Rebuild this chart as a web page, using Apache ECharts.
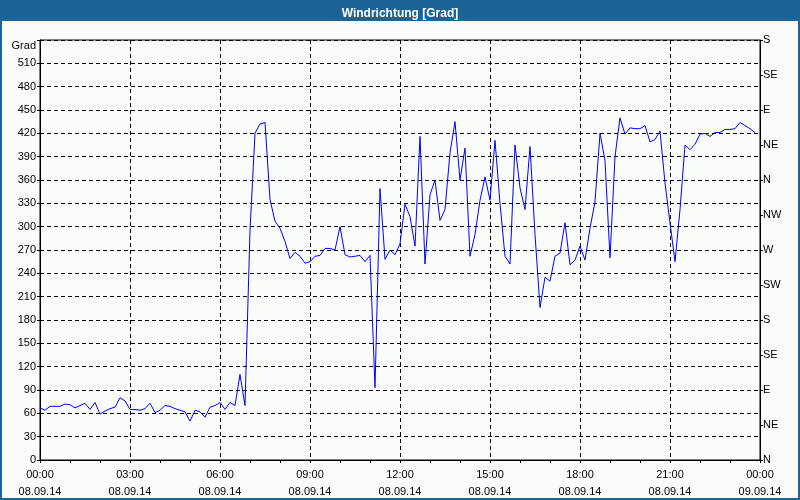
<!DOCTYPE html>
<html>
<head>
<meta charset="utf-8">
<script src="https://cdn.jsdelivr.net/npm/echarts@6/dist/echarts.min.js"></script>
<style>
html,body{margin:0;padding:0;background:#fafcfa;}
#c{width:800px;height:500px;}
</style>
</head>
<body>
<div id="c"></div>
<script>
// Wind direction, 10-minute samples from 08.09.14 00:00
const directionValues = [
  67, 64, 69, 69, 69, 72, 71, 67, 70, 73,
  65, 74, 59, 63, 66, 68, 80, 76, 65, 65,
  64, 66, 73, 61, 64, 70, 69, 66, 64, 62,
  50, 64, 62, 55, 68, 70, 74, 65, 74, 70,
  110, 70, 295, 420, 432, 434, 335, 307, 298, 281,
  259, 267, 262, 253, 255, 262, 263, 272, 272, 270,
  300, 264, 261, 262, 263, 255, 263, 93, 349, 258,
  270, 264, 278, 329, 313, 275, 416, 252, 341, 360,
  308, 322, 395, 435, 360, 401, 262, 290, 334, 364,
  334, 411, 330, 262, 252, 405, 350, 322, 403, 290,
  196, 235, 230, 262, 266, 305, 251, 257, 275, 257,
  298, 332, 420, 385, 260, 390, 440, 419, 427, 426,
  426, 430, 409, 412, 423, 356, 305, 255, 322, 405,
  399, 406, 419, 420, 416, 421, 421, 425, 425, 426,
  434, 430, 426, 421
];
const sampleMinutes = 10;
const timeLabels = ['00:00','03:00','06:00','09:00','12:00','15:00','18:00','21:00','00:00'];
const dateLabels = ['08.09.14','08.09.14','08.09.14','08.09.14','08.09.14','08.09.14','08.09.14','08.09.14','09.09.14'];
const gradTicks = [0,30,60,90,120,150,180,210,240,270,300,330,360,390,420,450,480,510];
const compassLabels = ['N','NE','E','SE','S','SW','W','NW','N','NE','E','SE','S'];

const seriesData = directionValues.map((v, i) => [i * sampleMinutes, v]);

const FONT = "'Liberation Sans Narrow','Liberation Sans',sans-serif";
const BLUE = '#1d6496';

const chart = echarts.init(document.getElementById('c'), null, {renderer: 'canvas'});
chart.setOption({
  backgroundColor: '#fafcfa',
  animation: false,
  title: {
    text: 'Windrichtung [Grad]',
    left: 'center',
    top: 3,
    textStyle: {color: '#ffffff', fontFamily: FONT, fontSize: 12, fontWeight: 'bold'}
  },
  graphic: [
    {type: 'rect', z: -10, shape: {x: 0, y: 0, width: 800, height: 21}, style: {fill: BLUE}},
    {type: 'rect', z: -10, shape: {x: 1, y: 1, width: 798, height: 498}, style: {fill: 'none', stroke: BLUE, lineWidth: 2}}
  ],
  grid: {
    left: 40, right: 40, top: 40, bottom: 39,
    show: true, borderColor: '#000', borderWidth: 1, backgroundColor: 'transparent'
  },
  xAxis: {
    type: 'value', min: 0, max: 1440, interval: 180,
    axisLine: {show: true, onZero: false, lineStyle: {color: '#000', width: 1}},
    axisTick: {show: true, length: 3, lineStyle: {color: '#000'}},
    minorTick: {show: true, splitNumber: 3, length: 3, lineStyle: {color: '#000'}},
    axisLabel: {
      color: '#000', fontFamily: FONT, fontSize: 11, lineHeight: 17, margin: 6,
      formatter: v => { const k = Math.round(v / 180); return timeLabels[k] + '\n' + dateLabels[k]; }
    },
    splitLine: {show: true, lineStyle: {color: '#000', type: [4, 3], width: 1}}
  },
  yAxis: [
    {
      type: 'value', min: 0, max: 540, interval: 30, position: 'left',
      axisLine: {show: true, lineStyle: {color: '#000'}},
      axisTick: {show: true, length: 3, lineStyle: {color: '#000'}},
      axisLabel: {
        color: '#000', fontFamily: FONT, fontSize: 11, margin: 4,
        formatter: v => gradTicks.indexOf(v) >= 0 ? String(v) : '{g|Grad}',
        rich: {g: {color: '#000', fontFamily: FONT, fontSize: 11, padding: [12, 0, 0, 0]}}
      },
      splitLine: {show: true, lineStyle: {color: '#000', type: [4, 3], width: 1}}
    },
    {
      type: 'value', min: 0, max: 540, interval: 45, position: 'right',
      axisLine: {show: true, lineStyle: {color: '#000'}},
      axisTick: {show: true, length: 3, lineStyle: {color: '#000'}},
      axisLabel: {
        color: '#000', fontFamily: FONT, fontSize: 11, margin: 3,
        formatter: v => compassLabels[Math.round(v / 45)]
      },
      splitLine: {show: false}
    }
  ],
  series: [{
    type: 'line',
    data: seriesData,
    yAxisIndex: 0,
    showSymbol: false,
    lineStyle: {color: '#0000ff', width: 1},
    z: 5
  }]
});
</script>
</body>
</html>
